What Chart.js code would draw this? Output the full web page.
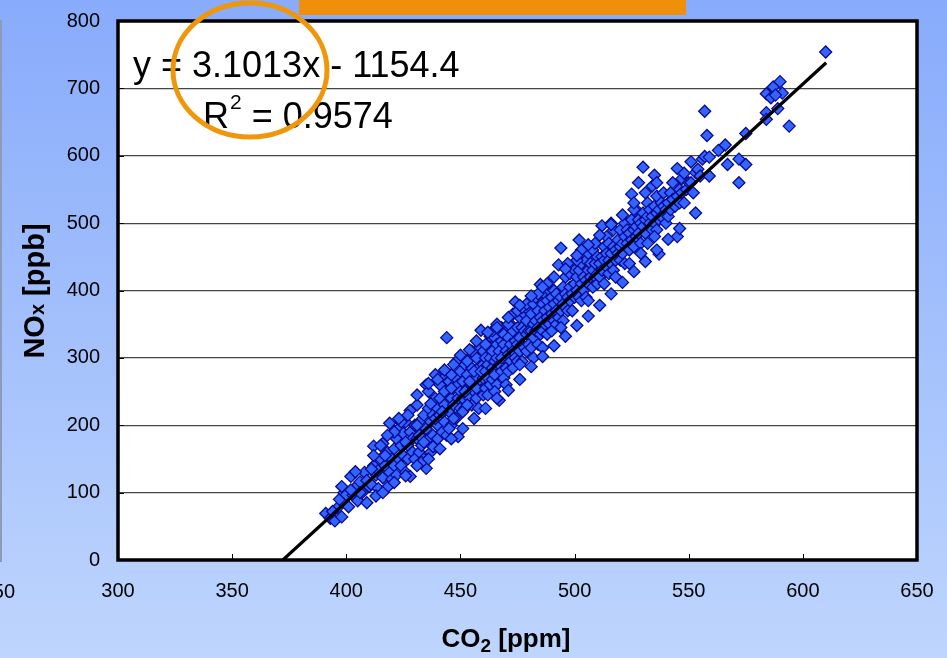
<!DOCTYPE html>
<html>
<head>
<meta charset="utf-8">
<script src="https://cdn.jsdelivr.net/npm/chart.js@4.4.0/dist/chart.umd.min.js"></script>
<style>
  html, body { margin: 0; padding: 0; width: 947px; height: 658px; overflow: hidden;
    background: linear-gradient(to bottom, #88abfb, #bed5fd); }
  canvas { display: block; }
</style>
</head>
<body>
<canvas id="chart" width="947" height="658"></canvas>
<script>
// CO2 [ppm] vs NOx [ppb] samples
const samples = [
  [391,69],[393,62],[395,58],[396,77],[398,64],[397,90],[399,100],[398,109],[394,72],[400,97],
  [401,79],[402,124],[403,96],[404,108],[405,88],[406,116],[407,100],[408,130],[409,85],[404,131],
  [406,100],[409,118],[410,109],[402,104],
  [411,112],[412,140],[413,126],[414,106],[414,133],[415,150],[416,122],[416,173],[417,140],[418,108],
  [418,160],[419,203],[419,130],[420,150],[412,169],[413,95],[415,170],[417,155],[420,120],[411,135],
  [421,165],[421,140],[422,180],[422,126],[423,150],[423,195],[424,170],[424,140],[425,155],[425,188],
  [426,205],[426,130],[427,170],[427,150],[428,190],[428,124],[428,222],[429,180],[429,160],[430,200],
  [430,150],[421,190],[424,205],[426,175],
  [431,230],[431,180],[432,160],[432,205],[433,190],[433,170],[434,215],[434,150],[435,260],[435,136],
  [435,195],[436,180],[436,225],[437,205],[437,160],[438,215],[438,185],[439,240],[439,170],[440,200],
  [440,225],[431,200],[433,145],[436,250],[437,232],[438,168],[439,210],[432,185],[434,175],[440,180],
  [441,215],[441,240],[442,274],[442,190],[443,230],[443,205],[444,330],[444,185],[444,250],[445,220],
  [445,265],[446,240],[446,200],[447,255],[447,230],[448,294],[448,210],[448,270],[449,183],[449,240],
  [449,260],[450,225],[450,250],[450,280],[441,260],[442,220],[443,250],[445,195],[446,275],[447,210],
  [439,275],[446,255],
  [451,240],[451,265],[452,290],[452,225],[453,255],[453,275],[454,240],[454,300],[455,260],[455,230],
  [455,285],[456,250],[456,305],[457,270],[457,240],[458,285],[458,260],[458,225],[459,252],[459,300],
  [459,341],[460,270],[460,290],[460,245],[451,220],[452,250],[453,295],[454,265],[456,280],[457,300],
  [458,315],[460,310],[455,310],[457,255],[453,230],[459,280],
  [461,280],[461,300],[461,255],[462,320],[462,270],[462,290],[463,332],[463,260],[463,300],[464,285],
  [464,310],[464,268],[465,295],[465,330],[465,275],[466,300],[466,320],[466,260],[467,237],[467,310],
  [467,290],[468,325],[468,280],[468,345],[469,300],[469,270],[469,320],[470,310],[470,285],[470,340],
  [470,260],[461,320],[462,245],[464,340],[466,350],[468,300],[469,335],[465,250],
  [471,305],[471,330],[471,280],[472,320],[472,295],[472,350],[473,310],[473,340],[473,285],[474,383],
  [474,325],[474,300],[475,320],[475,345],[475,295],[476,330],[476,310],[476,360],[477,320],[477,345],
  [477,295],[478,340],[478,365],[478,315],[479,335],[479,355],[479,310],[480,340],[480,370],[480,320],
  [471,350],[473,365],[475,370],[477,375],[479,380],[476,290],
  [481,340],[481,365],[481,315],[482,350],[482,380],[482,330],[483,355],[483,340],[483,390],[484,345],
  [484,370],[484,320],[485,360],[485,409],[485,335],[486,355],[486,380],[486,340],[487,370],[487,350],
  [487,395],[488,360],[488,385],[488,335],[489,375],[489,350],[489,400],[490,365],[490,390],[490,340],
  [482,300],[484,395],[486,315],[488,410],
  [491,380],[491,355],[491,400],[492,370],[492,395],[492,350],[493,385],[493,438],[493,360],[494,463],
  [494,390],[494,370],[495,380],[495,405],[495,355],[496,395],[496,375],[496,420],[497,390],[497,370],
  [498,405],[498,385],[498,425],[499,395],[499,370],[500,410],[500,390],[500,430],[494,345],[497,440],
  [501,400],[501,420],[502,475],[502,390],[502,430],[503,410],[503,440],[503,385],[504,420],[504,400],
  [505,445],[505,415],[505,390],[506,430],[506,410],[506,455],[507,420],[507,440],[508,430],[508,405],
  [508,460],[509,440],[509,420],[510,450],[510,425],[510,410],[503,460],[506,385],[509,470],[501,445],
  [511,440],[511,420],[512,496],[512,450],[512,430],[513,445],[513,465],[514,435],[514,455],[514,480],
  [515,445],[515,425],[515,470],[516,455],[516,440],[517,465],[517,490],[517,430],[518,460],[518,445],
  [519,475],[519,455],[520,465],[520,445],[520,490],[513,410],[516,500],[518,420],
  [521,470],[521,455],[522,480],[522,500],[522,440],[523,470],[523,490],[524,460],[524,485],[525,543],
  [525,475],[525,505],[526,490],[526,465],[527,495],[527,480],[527,520],[528,485],[528,505],[528,560],
  [529,500],[529,470],[530,583],[530,495],[530,515],[524,440],[526,520],[529,455],
  [531,505],[531,485],[532,510],[532,530],[532,470],[533,500],[533,520],[534,555],[534,490],[534,510],
  [535,571],[535,525],[535,500],[536,515],[536,490],[536,540],[537,520],[537,454],[537,505],[538,530],
  [538,510],[539,525],[539,545],[540,520],[540,500],[535,480],
  [541,530],[541,510],[542,545],[542,520],[543,560],[543,535],[544,525],[545,581],[545,540],[545,480],
  [546,550],[546,530],[547,566],[547,545],[548,574],[548,530],[549,550],[550,560],
  [551,591],[551,560],[552,545],[553,515],[553,575],[554,580],[555,570],[556,595],[557,599],[557,666],
  [558,630],[559,598],[559,570],
  [563,608],[566,616],[567,587],[572,595],[572,560],[575,587],[575,633],
  [584,692],[587,702],[590,710],[591,693],[586,686],[589,670],[584,664],[584,654],[594,644],[588,690],
  [610,754],
  // points on the upper and lower edge of the band
  [412,155],[418,185],[423,210],[427,215],[431,245],[436,262],[440,268],[443,282],[447,290],[450,304],
  [454,312],[457,325],[462,338],[466,345],[471,360],[476,378],[481,392],[486,405],[491,420],[496,432],
  [501,452],[506,468],[511,482],[516,498],[521,512],[526,530],[531,545],[536,560],
  [416,100],[421,115],[426,125],[431,140],[436,150],[441,165],[446,180],[451,195],[456,210],[461,225],
  [466,240],[471,252],[476,268],[481,287],[486,302],[491,318],[496,332],[501,348],[506,362],[511,378],
  [516,395],[521,412],[526,428],[531,443],[536,460],[541,476],[546,492]
];

// linear fit shown on the slide
const trendCo2 = [372.2, 610.2];
const trendNox = [0, 738];
const eqText = 'y = 3.1013x - 1154.4';
const r2Text = ' = 0.9574';

const xMin = 300, xMax = 650, xStep = 50;
const yMin = 0, yMax = 800, yStep = 100;

const FONT = '"Liberation Sans", Arial, sans-serif';

// draws a row of text pieces with different sizes/offsets, centred on x
function drawRuns(ctx, runs, x, y) {
  let total = 0;
  runs.forEach(r => { ctx.font = r.font; total += ctx.measureText(r.text).width; });
  let cx = x - total / 2;
  ctx.textAlign = 'left';
  ctx.textBaseline = 'alphabetic';
  runs.forEach(r => {
    ctx.font = r.font;
    ctx.fillText(r.text, cx, y + (r.dy || 0));
    cx += ctx.measureText(r.text).width;
  });
}

const slideDecor = {
  id: 'slideDecor',
  beforeDraw(chart) {
    const {ctx, chartArea: a} = chart;
    ctx.save();
    ctx.fillStyle = '#ffffff';
    ctx.fillRect(a.left, a.top, a.right - a.left, a.bottom - a.top);
    ctx.restore();
  },
  afterDraw(chart) {
    const {ctx, chartArea: a, scales} = chart;
    ctx.save();

    // little inner tick marks
    ctx.strokeStyle = '#000';
    ctx.lineWidth = 1;
    scales.x.ticks.forEach(t => {
      const px = Math.round(scales.x.getPixelForValue(t.value)) + 0.5;
      ctx.beginPath(); ctx.moveTo(px, a.bottom); ctx.lineTo(px, a.bottom - 6); ctx.stroke();
    });
    scales.y.ticks.forEach(t => {
      const py = Math.round(scales.y.getPixelForValue(t.value)) + 0.5;
      ctx.beginPath(); ctx.moveTo(a.left, py); ctx.lineTo(a.left + 6, py); ctx.stroke();
    });

    // plot frame
    ctx.lineWidth = 3.5;
    ctx.strokeRect(a.left, a.top, a.right - a.left, a.bottom - a.top);

    // axis titles
    ctx.fillStyle = '#000';
    drawRuns(ctx, [
      {text: 'CO', font: 'bold 26px ' + FONT},
      {text: '2', font: 'bold 19px ' + FONT, dy: 5},
      {text: ' [ppm]', font: 'bold 26px ' + FONT}
    ], 506, 647);
    ctx.save();
    ctx.translate(44, 291);
    ctx.rotate(-Math.PI / 2);
    drawRuns(ctx, [
      {text: 'NO', font: 'bold 29px ' + FONT},
      {text: 'x', font: 'bold 20px ' + FONT},
      {text: ' [ppb]', font: 'bold 29px ' + FONT}
    ], 0, 0);
    ctx.restore();

    // trendline label
    ctx.textAlign = 'left';
    ctx.textBaseline = 'alphabetic';
    ctx.font = '36px ' + FONT;
    ctx.fillText(eqText, 133, 77);
    ctx.fillText('R', 203, 128);
    let rx = 203 + ctx.measureText('R').width;
    ctx.font = '21px ' + FONT;
    ctx.fillText('2', rx + 1, 109);
    rx += ctx.measureText('2').width + 1;
    ctx.font = '36px ' + FONT;
    ctx.fillText(r2Text, rx, 128);

    // leftovers of the slide around the chart
    ctx.font = '20px ' + FONT;
    ctx.textAlign = 'right';
    ctx.fillText('650', 15, 598);
    ctx.strokeStyle = '#8d9ab8';
    ctx.lineWidth = 2;
    ctx.beginPath(); ctx.moveTo(1, 20); ctx.lineTo(1, 562); ctx.stroke();
    ctx.fillStyle = '#f0900a';
    ctx.fillRect(299, 0, 387, 15);

    // orange highlight ring
    ctx.strokeStyle = '#f0960a';
    ctx.lineWidth = 5;
    ctx.beginPath();
    ctx.ellipse(250, 70, 77, 67, 0, 0, Math.PI * 2);
    ctx.stroke();
    ctx.restore();
  }
};

const tickFont = {family: FONT, size: 20};

new Chart(document.getElementById('chart'), {
  type: 'scatter',
  data: {
    datasets: [
      {
        label: 'fit',
        data: trendCo2.map((x, i) => ({x: x, y: trendNox[i]})),
        showLine: true,
        borderColor: '#000',
        borderWidth: 3.2,
        pointRadius: 0,
        order: 0
      },
      {
        label: 'NOx',
        data: samples.map(p => ({x: p[0], y: p[1]})),
        pointStyle: 'rectRot',
        pointRadius: 6,
        backgroundColor: '#3264ff',
        borderColor: '#0a0a90',
        borderWidth: 1.3,
        order: 1
      }
    ]
  },
  options: {
    responsive: false,
    animation: false,
    layout: {padding: {top: 21, right: 30, left: 0, bottom: 0}},
    plugins: {legend: {display: false}, tooltip: {enabled: false}},
    scales: {
      x: {
        type: 'linear', min: xMin, max: xMax,
        ticks: {stepSize: xStep, color: '#000', font: tickFont, padding: 19},
        grid: {display: false, drawTicks: false},
        border: {display: false},
        afterFit: s => { s.height = 98; s.paddingLeft = 0; s.paddingRight = 0; }
      },
      y: {
        min: yMin, max: yMax,
        ticks: {stepSize: yStep, color: '#000', font: tickFont, padding: 18},
        grid: {color: '#454545', lineWidth: 1.2, drawTicks: false},
        border: {display: false},
        afterFit: s => { s.width = 118; s.paddingTop = 0; s.paddingBottom = 0; }
      }
    }
  },
  plugins: [slideDecor]
});
</script>
</body>
</html>
